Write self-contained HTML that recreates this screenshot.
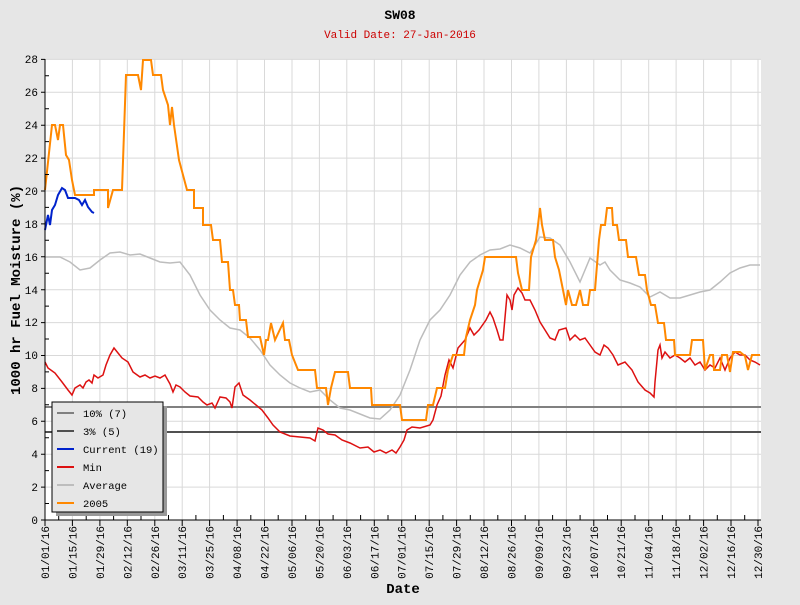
<!DOCTYPE html>
<html><head><style>body{margin:0;background:#e6e6e6}</style></head><body>
<svg width="800" height="600" xmlns="http://www.w3.org/2000/svg" font-family="Liberation Mono, monospace">
<rect width="800" height="600" fill="#e6e6e6"/>
<rect x="45" y="59" width="716" height="461" fill="#fff"/>
<g stroke="#d9d9d9" stroke-width="1">
<path d="M45 487.1H761M45 454.2H761M45 421.3H761M45 388.4H761M45 355.5H761M45 322.6H761M45 289.7H761M45 256.8H761M45 223.9H761M45 191H761M45 158.1H761M45 125.2H761M45 92.3H761M45 59.4H761"/>
<path d="M72.4 59V520M99.9 59V520M127.3 59V520M154.8 59V520M182.2 59V520M209.6 59V520M237.1 59V520M264.5 59V520M292 59V520M319.4 59V520M346.8 59V520M374.3 59V520M401.7 59V520M429.2 59V520M456.6 59V520M484 59V520M511.5 59V520M538.9 59V520M566.4 59V520M593.8 59V520M621.2 59V520M648.7 59V520M676.1 59V520M703.6 59V520M731 59V520M758 59V520"/>
</g>
<line x1="45" y1="407" x2="761" y2="407" stroke="#808080" stroke-width="2"/>
<line x1="45" y1="432" x2="761" y2="432" stroke="#505050" stroke-width="2"/>
<polyline fill="none" stroke="#bdbdbd" stroke-width="1.5" points="45,257 60,257 70,262 80,270 90,268 100,260 110,253 120,252 130,255 140,254 150,258 160,262 170,263 180,262 190,275 200,295 210,310 220,320 230,328 240,330 250,338 260,350 270,365 280,375 290,383 300,388 310,392 320,390 330,400 340,408 350,410 360,414 370,418 380,419 390,410 400,395 410,370 420,340 430,320 440,310 450,295 460,275 470,262 480,255 490,250 500,249 510,245 520,248 530,253 540,237 550,238 560,245 570,262 580,282 590,258 600,265 605,262 610,270 620,280 630,283 640,287 650,297 660,292 670,298 680,298 690,295 700,292 710,290 720,282 730,273 740,268 750,265 760,265"/>
<polyline fill="none" stroke="#dd1111" stroke-width="1.5" points="45,362 48,368 55,373 62,382 68,390 72,395 75,388 80,385 83,388 86,382 89,380 92,383 94,375 98,378 103,375 106,365 110,355 114,348 118,353 122,358 128,362 133,372 140,377 145,375 150,378 155,376 160,378 165,375 170,384 173,392 176,385 180,387 185,392 190,396 198,397 203,402 207,405 212,403 215,408 220,397 226,398 230,402 232,408 235,387 239,383 243,395 250,400 256,405 262,410 268,418 273,425 280,432 290,436 300,437 310,438 315,441 318,428 323,430 328,434 335,435 342,440 350,443 360,448 368,447 374,452 380,450 386,453 392,450 396,453 400,447 404,440 407,430 412,427 420,428 430,425 433,420 437,405 441,396 445,375 449,360 453,368 458,348 465,340 470,328 474,335 479,330 486,320 490,312 493,318 497,330 500,340 503,340 507,295 510,300 512,310 514,295 518,288 522,293 525,300 530,300 535,310 540,322 545,330 550,338 555,340 559,330 566,328 570,340 575,335 580,340 585,338 590,345 595,352 600,355 604,345 608,348 613,355 618,365 625,362 632,370 638,382 645,390 650,393 654,397 655,382 658,350 660,345 662,358 665,352 670,358 675,355 680,358 685,362 690,358 695,365 700,362 705,370 710,365 715,368 720,358 725,370 730,358 735,352 740,355 745,355 750,360 755,362 760,365"/>
<polyline fill="none" stroke="#ff8800" stroke-width="2" points="45,190 52,125 55,125 58,140 60,125 63,125 66,155 69,160 72,180 75,195 94,195 94,190 108,190 108,208 113,190 122,190 126,75 138,75 141,90 143,60 151,60 153,75 161,75 163,90 168,105 170,125 172,107 174,125 179,160 183,175 187,190 194,190 194,208 203,208 203,225 211,225 213,240 220,240 222,262 228,262 230,290 233,290 235,305 239,305 240,320 246,320 248,337 260,337 264,355 266,340 268,340 271,323 275,340 283,323 285,340 289,340 292,355 298,370 315,370 317,388 326,388 328,405 331,388 335,372 348,372 350,388 371,388 372,405 400,405 402,420 426,420 428,405 433,405 437,388 445,388 448,370 453,355 464,355 466,337 470,320 475,305 477,290 483,270 485,257 516,257 518,273 522,290 529,290 531,257 536,240 538,225 540,208 542,225 545,240 553,240 555,257 559,270 563,290 566,305 568,290 572,305 576,305 580,290 583,305 588,305 590,290 595,290 599,240 601,225 605,225 607,208 612,208 613,225 617,225 619,240 626,240 628,257 636,257 639,275 645,275 647,290 651,305 655,305 658,323 664,323 666,340 674,340 675,355 690,355 692,340 703,340 705,370 710,355 713,355 714,370 720,370 722,355 727,355 730,372 733,352 740,352 745,356 748,370 752,355 760,355"/>
<polyline fill="none" stroke="#0022cc" stroke-width="2" points="45,230 48,215 50,225 52,210 55,205 58,195 62,188 65,190 68,198 75,198 79,200 82,205 85,200 88,207 92,212 94,213"/>
<g stroke="#000" stroke-width="1"><line x1="45" y1="59" x2="45" y2="520"/><line x1="45" y1="520" x2="761" y2="520"/>
<path d="M45 520v6M58.7 520v-5M72.4 520v6M86.2 520v-5M99.9 520v6M113.6 520v-5M127.3 520v6M141 520v-5M154.8 520v6M168.5 520v-5M182.2 520v6M195.9 520v-5M209.6 520v6M223.4 520v-5M237.1 520v6M250.8 520v-5M264.5 520v6M278.2 520v-5M292 520v6M305.7 520v-5M319.4 520v6M333.1 520v-5M346.8 520v6M360.6 520v-5M374.3 520v6M388 520v-5M401.7 520v6M415.4 520v-5M429.2 520v6M442.9 520v-5M456.6 520v6M470.3 520v-5M484 520v6M497.8 520v-5M511.5 520v6M525.2 520v-5M538.9 520v6M552.6 520v-5M566.4 520v6M580.1 520v-5M593.8 520v6M607.5 520v-5M621.2 520v6M635 520v-5M648.7 520v6M662.4 520v-5M676.1 520v6M689.8 520v-5M703.6 520v6M717.3 520v-5M731 520v6M744.7 520v-5M758 520v6"/>
<path d="M45 503.5h4M45 470.6h4M45 437.7h4M45 404.8h4M45 371.9h4M45 339h4M45 306.1h4M45 273.2h4M45 240.3h4M45 207.4h4M45 174.5h4M45 141.6h4M45 108.7h4M45 75.8h4M41 520h4M41 487.1h4M41 454.2h4M41 421.3h4M41 388.4h4M41 355.5h4M41 322.6h4M41 289.7h4M41 256.8h4M41 223.9h4M41 191h4M41 158.1h4M41 125.2h4M41 92.3h4M41 59.4h4"/>
</g>
<g font-size="11" text-anchor="end" fill="#000">
<text x="38" y="524">0</text><text x="38" y="491">2</text><text x="38" y="458">4</text><text x="38" y="425">6</text><text x="38" y="392">8</text><text x="38" y="359">10</text><text x="38" y="326">12</text><text x="38" y="294">14</text><text x="38" y="261">16</text><text x="38" y="228">18</text><text x="38" y="195">20</text><text x="38" y="162">22</text><text x="38" y="129">24</text><text x="38" y="96">26</text><text x="38" y="63">28</text>
</g>
<g font-size="11" text-anchor="end" fill="#000">
<text transform="translate(49,526) rotate(-90)">01/01/16</text><text transform="translate(76.4,526) rotate(-90)">01/15/16</text><text transform="translate(103.9,526) rotate(-90)">01/29/16</text><text transform="translate(131.3,526) rotate(-90)">02/12/16</text><text transform="translate(158.8,526) rotate(-90)">02/26/16</text><text transform="translate(186.2,526) rotate(-90)">03/11/16</text><text transform="translate(213.6,526) rotate(-90)">03/25/16</text><text transform="translate(241.1,526) rotate(-90)">04/08/16</text><text transform="translate(268.5,526) rotate(-90)">04/22/16</text><text transform="translate(296,526) rotate(-90)">05/06/16</text><text transform="translate(323.4,526) rotate(-90)">05/20/16</text><text transform="translate(350.8,526) rotate(-90)">06/03/16</text><text transform="translate(378.3,526) rotate(-90)">06/17/16</text><text transform="translate(405.7,526) rotate(-90)">07/01/16</text><text transform="translate(433.2,526) rotate(-90)">07/15/16</text><text transform="translate(460.6,526) rotate(-90)">07/29/16</text><text transform="translate(488,526) rotate(-90)">08/12/16</text><text transform="translate(515.5,526) rotate(-90)">08/26/16</text><text transform="translate(542.9,526) rotate(-90)">09/09/16</text><text transform="translate(570.4,526) rotate(-90)">09/23/16</text><text transform="translate(597.8,526) rotate(-90)">10/07/16</text><text transform="translate(625.2,526) rotate(-90)">10/21/16</text><text transform="translate(652.7,526) rotate(-90)">11/04/16</text><text transform="translate(680.1,526) rotate(-90)">11/18/16</text><text transform="translate(707.6,526) rotate(-90)">12/02/16</text><text transform="translate(735,526) rotate(-90)">12/16/16</text><text transform="translate(762,526) rotate(-90)">12/30/16</text>
</g>
<text x="400" y="19" font-size="13" font-weight="bold" text-anchor="middle">SW08</text>
<text x="400" y="38" font-size="11" fill="#cc0000" text-anchor="middle">Valid Date: 27-Jan-2016</text>
<text x="403" y="593" font-size="14" font-weight="bold" text-anchor="middle">Date</text>
<text transform="translate(20,290) rotate(-90)" font-size="14" font-weight="bold" text-anchor="middle">1000 hr Fuel Moisture (%)</text>
<rect x="56" y="406" width="111" height="110" fill="#999"/>
<rect x="52" y="402" width="111" height="110" fill="#e6e6e6" stroke="#000"/>
<g stroke-width="2">
<line x1="57" y1="413" x2="74" y2="413" stroke="#808080"/>
<line x1="57" y1="431" x2="74" y2="431" stroke="#505050"/>
<line x1="57" y1="449" x2="74" y2="449" stroke="#0022cc"/>
<line x1="57" y1="467" x2="74" y2="467" stroke="#dd1111"/>
<line x1="57" y1="485" x2="74" y2="485" stroke="#bdbdbd"/>
<line x1="57" y1="503" x2="74" y2="503" stroke="#ff8800"/>
</g>
<g font-size="10.5" fill="#000">
<text x="83" y="417">10% (7)</text><text x="83" y="435">3% (5)</text><text x="83" y="453">Current (19)</text><text x="83" y="471">Min</text><text x="83" y="489">Average</text><text x="83" y="507">2005</text>
</g>
</svg>
</body></html>
